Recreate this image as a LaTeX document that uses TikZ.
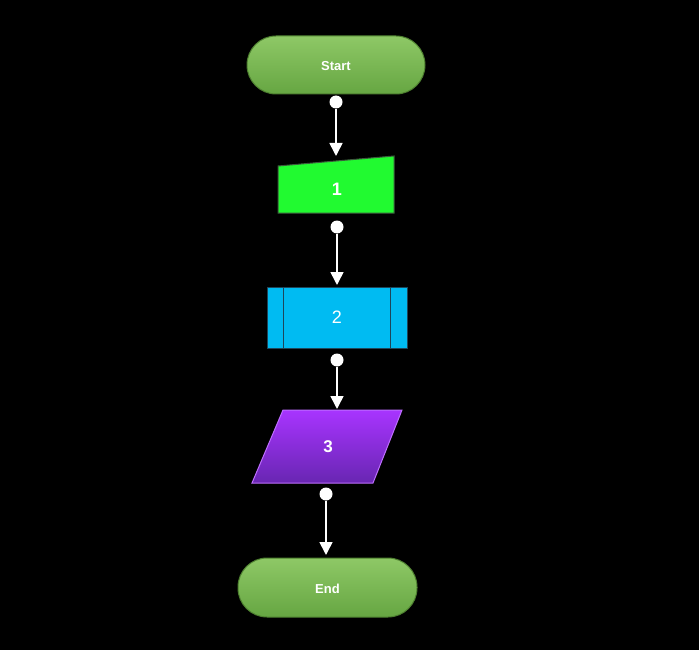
\documentclass[tikz,border=0pt]{standalone}
\usepackage{fontspec}
\setmainfont{Liberation Sans}
\usetikzlibrary{arrows.meta,positioning}
\definecolor{termtop}{RGB}{142,200,102}
\definecolor{termbot}{RGB}{102,166,66}
\definecolor{termline}{RGB}{78,128,48}
\definecolor{manfill}{RGB}{33,250,48}
\definecolor{manline}{RGB}{60,90,60}
\definecolor{predfill}{RGB}{0,187,242}
\definecolor{predline}{RGB}{30,70,90}
\definecolor{iotop}{RGB}{168,52,255}
\definecolor{iobot}{RGB}{104,38,178}
\definecolor{ioline}{RGB}{190,110,255}

\tikzset{
	term/.style={top color=termtop, bottom color=termbot, draw=termline, line width=1pt, rounded corners=29pt},
	lbl/.style={text=white, font=\bfseries},
	dot/.style={circle, fill=white, minimum size=13pt, inner sep=0pt},
	flow/.style={->, >={Triangle[width=13pt,length=13pt]}, white, line width=1.6pt}
}

\begin{document}
\begin{tikzpicture}[x=1pt,y=-1pt]
	
	\fill[black] (0,0) rectangle (699,650);
	\useasboundingbox (0,0) rectangle (699,650);
	
	% Start
	\shade[term] (247,36) rectangle (425,94);
	\node[lbl, font=\bfseries\fontsize{13}{13}\selectfont] (start) at (336,66) {Start};
	
	% 1
	\draw[fill=manfill, draw=manline, line width=1pt] (278,166) -- (394,156) -- (394,213) -- (278,213) -- cycle;
	\node[lbl, font=\bfseries\fontsize{18}{18}\selectfont] (man) at (337,189) {1};
	
	% 2
	\draw[fill=predfill, draw=predline, line width=1pt] (267,287) rectangle (407,348);
	\draw[predline, line width=1pt] (283,287) -- (283,348) (390,287) -- (390,348);
	\node[text=white, font=\fontsize{18}{18}\selectfont] (pred) at (337,317) {2};
	
	% 3
	\shade[top color=iotop, bottom color=iobot] (283,410) -- (402,410) -- (373,483) -- (252,483) -- cycle;
	\draw[ioline, line width=1pt] (283,410) -- (402,410) -- (373,483) -- (252,483) -- cycle;
	\node[lbl, font=\bfseries\fontsize{17}{17}\selectfont] (io) at (328,447) {3};
	
	% End
	\shade[term] (238,558) rectangle (417,617);
	\node[lbl, font=\bfseries\fontsize{13}{13}\selectfont] (end) at (327.5,589) {End};
	
	% connectors
	\node[dot] (d1) at (336,102) {};
	\node[dot] (d2) at (337,227) {};
	\node[dot] (d3) at (337,360) {};
	\node[dot] (d4) at (326,494) {};
	\coordinate (t1) at (336,156);
	\coordinate (t2) at (337,285);
	\coordinate (t3) at (337,409);
	\coordinate (t4) at (326,555);
	
	\draw[flow] (d1) -- (t1);
	\draw[flow] (d2) -- (t2);
	\draw[flow] (d3) -- (t3);
	\draw[flow] (d4) -- (t4);
	
\end{tikzpicture}
\end{document}
